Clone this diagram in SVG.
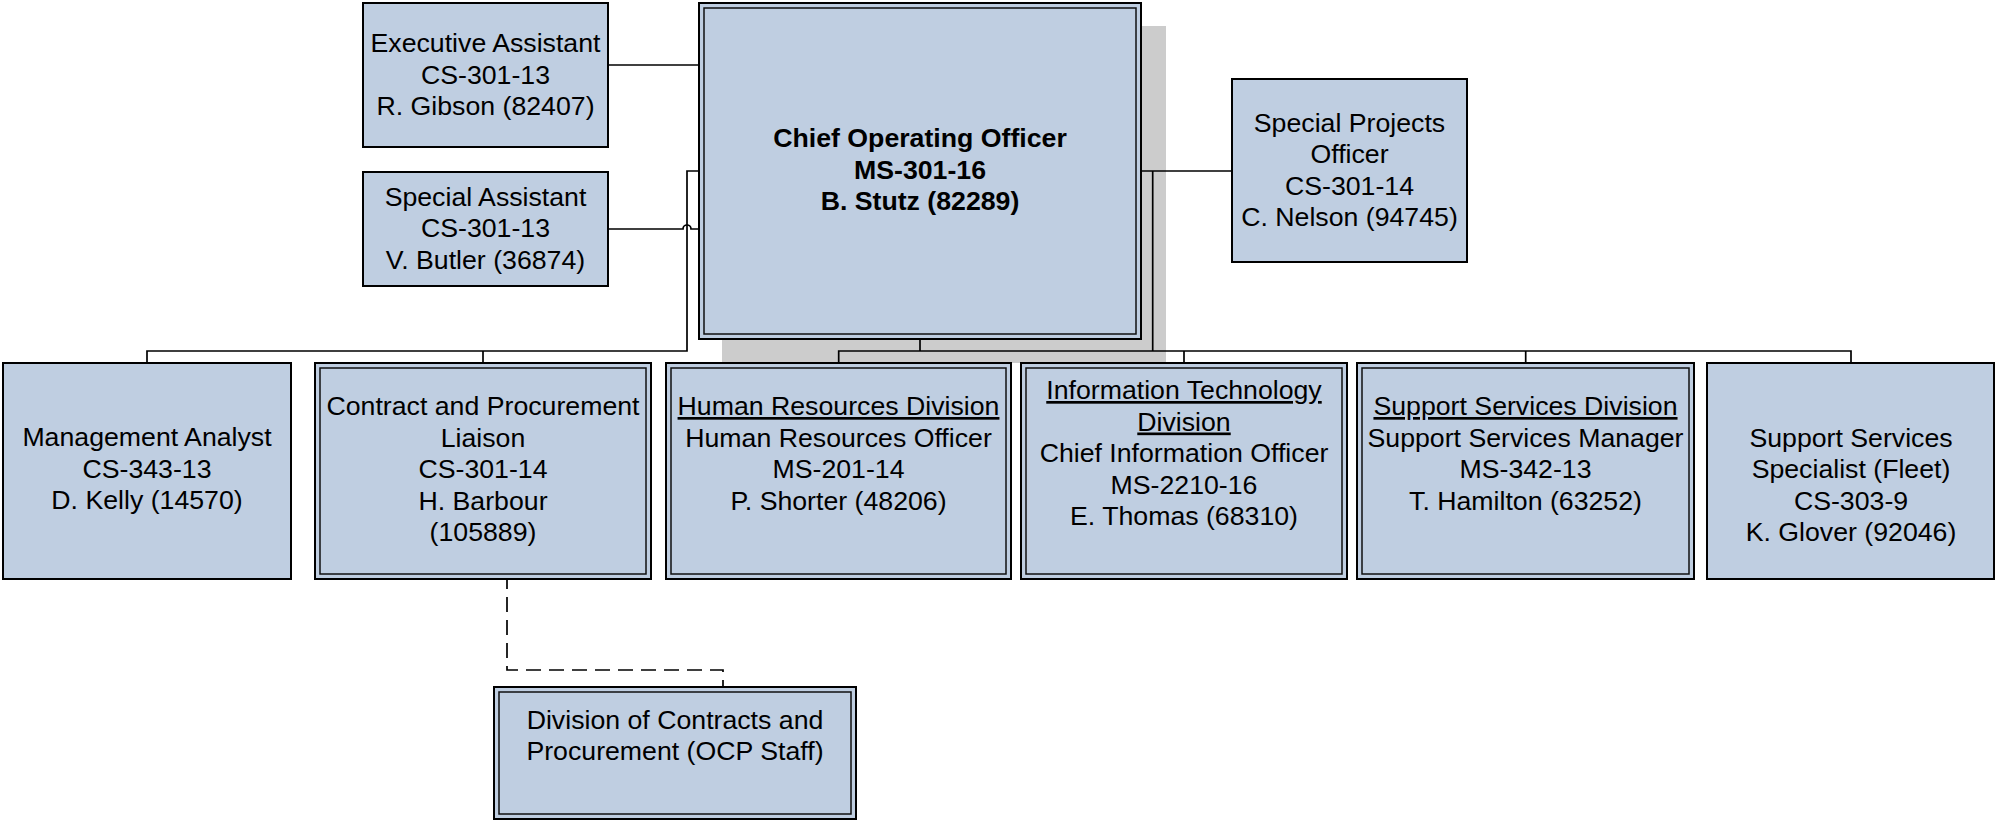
<svg xmlns="http://www.w3.org/2000/svg" width="1996" height="820" viewBox="0 0 1996 820">
<style>
.box{fill:#BFCEE1;stroke:#000;stroke-width:2}
.inner{fill:none;stroke:#111;stroke-width:1.5}
.shadow{fill:#CCCCCC}
.t{font-family:"Liberation Sans",Arial,sans-serif;font-size:26.7px;fill:#000;text-anchor:middle}
.b{font-weight:bold}
.u{text-decoration:underline}
.c{fill:none;stroke:#000;stroke-width:1.7}
.d{fill:none;stroke:#000;stroke-width:1.7;stroke-dasharray:15 8}
</style>
<rect width="1996" height="820" fill="#fff"/>
<rect class="shadow" x="722" y="26" width="444" height="337"/>
<g id="connectors">
<path class="c" d="M608 65 H699"/>
<path class="c" d="M608 229 H683 A4 4 0 0 1 691 229 H699"/>
<path class="c" d="M699 171 H687 V351 H147 V363"/>
<path class="c" d="M483 351 V363"/>
<path class="c" d="M1141 171 H1232"/>
<path class="c" d="M1152.7 171 V351"/>
<path class="c" d="M920 339 V351"/>
<path class="c" d="M838.7 363 V351 H1851 V363"/>
<path class="c" d="M1184 351 V363"/>
<path class="c" d="M1525.7 351 V363"/>
<path class="d" d="M507 574 V670 H723 V687"/>
</g>
<g id="coo">
<rect class="box" x="699" y="3" width="442" height="336"/>
<rect class="inner" x="704" y="8" width="432" height="326"/>
<text class="t b" x="920" y="147">Chief Operating Officer</text>
<text class="t b" x="920" y="178.5">MS-301-16</text>
<text class="t b" x="920" y="210">B. Stutz (82289)</text>
</g>
<g id="exec-assistant">
<rect class="box" x="363" y="3" width="245" height="144"/>
<text class="t" x="485.5" y="52">Executive Assistant</text>
<text class="t" x="485.5" y="83.5">CS-301-13</text>
<text class="t" x="485.5" y="115">R. Gibson (82407)</text>
</g>
<g id="special-assistant">
<rect class="box" x="363" y="172" width="245" height="114"/>
<text class="t" x="485.5" y="205.5">Special Assistant</text>
<text class="t" x="485.5" y="237">CS-301-13</text>
<text class="t" x="485.5" y="268.5">V. Butler (36874)</text>
</g>
<g id="special-projects">
<rect class="box" x="1232" y="79" width="235" height="183"/>
<text class="t" x="1349.5" y="131.5">Special Projects</text>
<text class="t" x="1349.5" y="163">Officer</text>
<text class="t" x="1349.5" y="194.5">CS-301-14</text>
<text class="t" x="1349.5" y="226">C. Nelson (94745)</text>
</g>
<g id="management-analyst">
<rect class="box" x="3" y="363" width="288" height="216"/>
<text class="t" x="147" y="446">Management Analyst</text>
<text class="t" x="147" y="477.5">CS-343-13</text>
<text class="t" x="147" y="509">D. Kelly (14570)</text>
</g>
<g id="contract-liaison">
<rect class="box" x="315" y="363" width="336" height="216"/>
<rect class="inner" x="320" y="368" width="326" height="206"/>
<text class="t" x="483" y="415">Contract and Procurement</text>
<text class="t" x="483" y="446.5">Liaison</text>
<text class="t" x="483" y="478">CS-301-14</text>
<text class="t" x="483" y="509.5">H. Barbour</text>
<text class="t" x="483" y="541">(105889)</text>
</g>
<g id="hr-division">
<rect class="box" x="666" y="363" width="345" height="216"/>
<rect class="inner" x="671" y="368" width="335" height="206"/>
<text class="t u" x="838.5" y="415">Human Resources Division</text>
<text class="t" x="838.5" y="446.5">Human Resources Officer</text>
<text class="t" x="838.5" y="478">MS-201-14</text>
<text class="t" x="838.5" y="509.5">P. Shorter (48206)</text>
</g>
<g id="it-division">
<rect class="box" x="1021" y="363" width="326" height="216"/>
<rect class="inner" x="1026" y="368" width="316" height="206"/>
<text class="t u" x="1184" y="399">Information Technology</text>
<text class="t u" x="1184" y="430.5">Division</text>
<text class="t" x="1184" y="462">Chief Information Officer</text>
<text class="t" x="1184" y="493.5">MS-2210-16</text>
<text class="t" x="1184" y="525">E. Thomas (68310)</text>
</g>
<g id="support-services-division">
<rect class="box" x="1357" y="363" width="337" height="216"/>
<rect class="inner" x="1362" y="368" width="327" height="206"/>
<text class="t u" x="1525.5" y="415">Support Services Division</text>
<text class="t" x="1525.5" y="446.5">Support Services Manager</text>
<text class="t" x="1525.5" y="478">MS-342-13</text>
<text class="t" x="1525.5" y="509.5">T. Hamilton (63252)</text>
</g>
<g id="support-services-specialist">
<rect class="box" x="1707" y="363" width="287" height="216"/>
<text class="t" x="1851" y="446.5">Support Services</text>
<text class="t" x="1851" y="478">Specialist (Fleet)</text>
<text class="t" x="1851" y="509.5">CS-303-9</text>
<text class="t" x="1851" y="541">K. Glover (92046)</text>
</g>
<g id="ocp-staff">
<rect class="box" x="494" y="687" width="362" height="132"/>
<rect class="inner" x="499" y="692" width="352" height="122"/>
<text class="t" x="675" y="728.5">Division of Contracts and</text>
<text class="t" x="675" y="760">Procurement (OCP Staff)</text>
</g>
</svg>
